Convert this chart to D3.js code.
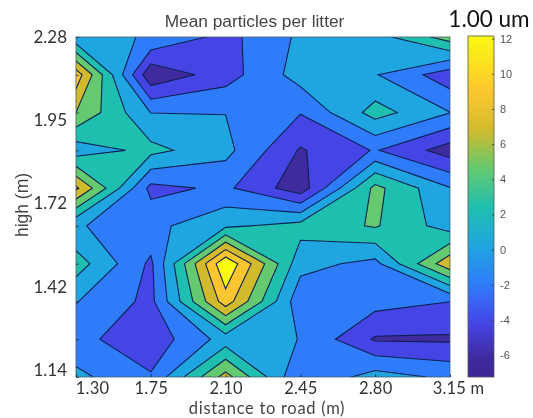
<!DOCTYPE html>
<html>
<head>
<meta charset="utf-8">
<script src="https://cdnjs.cloudflare.com/ajax/libs/d3/7.8.5/d3.min.js"></script>
<style>
  html, body { margin: 0; padding: 0; background: #fff; }
  svg { display: block; filter: blur(0.35px); }
</style>
</head>
<body>
<div id="chart"></div>
<script>
var xLabels = ["1.30", "1.75", "2.10", "2.45", "2.80", "3.15 m"];
var yLabels = ["2.28", "1.95", "1.72", "1.42", "1.14"];
var cbTicks = [12, 10, 8, 6, 4, 2, 0, -2, -4, -6];

// contour levels
var levels = [-5.3, -3.1, -0.9, 1.3, 3.5, 5.7, 7.9, 10.1];
// fill colour value of the band above each level
var bandMids = [-4.2, -2, 0.2, 2.4, 4.6, 6.8, 9, 12.15];

// colour ramp of the colorbar
var rampValues = [-7.25, -6.2, -4.2, -2, 0.2, 2.4, 4.6, 6.8, 9, 12.15];
var rampColors = ["#3d2695", "#3f2a9e", "#4545e6", "#2f7cfa", "#1fa5e0", "#1fbfb0", "#64c96f", "#d1bb2d", "#fdc62f", "#fafa10"];

// one row per height, top row first, one column per distance
var row0 = [-0.46, -1.01, -3.83, -0.50, 0.38, 4.60];
var row1 = [9.22, -7.06, -4.09, 0.05, -0.75, -4.44];
var row2 = [5.70, -0.94, -0.94, -2.99, 2.20, -0.86];
var row3 = [-0.02, 1.98, -0.24, -5.52, -2.92, -6.40];
var row4 = [8.34, -3.76, -2.66, -6.62, 4.16, -0.79];
var row5 = [-0.79, -1.56, 0.86, 2.18, 3.72, 0.20];
var row6 = [2.40, -3.54, 12.08, -0.13, -1.56, 7.35];
var row7 = [-0.79, -3.72, 9.11, -2.44, -2.22, -3.08];
var row8 = [-2.44, -4.51, 0.02, -0.94, -5.56, -5.63];
var row9 = [-0.31, -2.88, 6.58, -2.99, 0.07, -1.34];
var rows = [row0, row1, row2, row3, row4, row5, row6, row7, row8, row9];

var svgWidth = 533, svgHeight = 418;
var plot = { left: 76, right: 450, top: 37, bottom: 377 };
var bar = { left: 468, right: 494, top: 36, bottom: 377 };

var svg = d3.select("#chart").append("svg")
  .attr("width", svgWidth)
  .attr("height", svgHeight)
  .style("font-family", "'Liberation Sans', sans-serif");

var nx = rows[0].length, ny = rows.length;
var values = d3.merge(rows);
var negated = values.map(function(v) { return -v; });

var color = d3.scaleLinear().domain(rampValues).range(rampColors);

// d3.contours puts sample i at i + 0.5
var x = d3.scaleLinear().domain([0.5, nx - 0.5]).range([plot.left, plot.right]);
var y = d3.scaleLinear().domain([0.5, ny - 0.5]).range([plot.top, plot.bottom]);

var path = d3.geoPath(d3.geoTransform({
  point: function(px, py) { this.stream.point(x(px), y(py)); }
}));
var contour = d3.contours().size([nx, ny]);

// the 1.3 level has saddle cells that join their high corners in the reference,
// d3 splits them, so trace the low side and cut it out of a big rect
function levelPath(level) {
  if (level == 1.3) {
    return "M0,0H" + svgWidth + "V" + svgHeight + "H0Z" + path(contour.contour(negated, -level));
  }
  return path(contour.contour(values, level));
}

svg.append("clipPath").attr("id", "plotClip")
  .append("rect")
  .attr("x", plot.left).attr("y", plot.top)
  .attr("width", plot.right - plot.left).attr("height", plot.bottom - plot.top);

var plotArea = svg.append("g").attr("clip-path", "url(#plotClip)");

// lowest band is just the background
plotArea.append("rect")
  .attr("x", plot.left).attr("y", plot.top)
  .attr("width", plot.right - plot.left).attr("height", plot.bottom - plot.top)
  .attr("fill", color(-6.2));

plotArea.selectAll("path")
  .data(levels)
  .enter()
  .append("path")
  .attr("d", levelPath)
  .attr("fill-rule", "evenodd")
  .attr("fill", function(d, i) { return color(bandMids[i]); })
  .attr("stroke", "#0c2150")
  .attr("stroke-width", 1.1)
  .attr("stroke-linejoin", "miter");

// box and small inner ticks at the grid nodes
svg.append("rect")
  .attr("x", plot.left).attr("y", plot.top)
  .attr("width", plot.right - plot.left).attr("height", plot.bottom - plot.top)
  .attr("fill", "none").attr("stroke", "#4a5a6a").attr("stroke-width", 0.8);

var innerX = d3.axisBottom(x).tickValues(d3.range(nx).map(function(i) { return i + 0.5; })).tickSize(-3).tickFormat("");
var innerY = d3.axisLeft(y).tickValues(d3.range(ny).map(function(i) { return i + 0.5; })).tickSize(-3).tickFormat("");
var ix = svg.append("g").attr("transform", "translate(0," + plot.bottom + ")").call(innerX);
var iy = svg.append("g").attr("transform", "translate(" + plot.left + ",0)").call(innerY);
ix.select(".domain").remove();
iy.select(".domain").remove();
svg.selectAll("g.tick line").attr("stroke", "#123").attr("stroke-width", 0.7);

// tick labels of the axes
var xTick = d3.scalePoint().domain(xLabels).range([plot.left, plot.right]);
var yTick = d3.scalePoint().domain(yLabels).range([37, 370]);

var xAxis = svg.append("g")
  .attr("transform", "translate(0,379.6)")
  .call(d3.axisBottom(xTick).tickSize(0).tickPadding(3));
xAxis.select(".domain").remove();
xAxis.selectAll("text")
  .attr("font-size", 16.5)
  .attr("font-family", "Lato, sans-serif")
  .attr("letter-spacing", 0.2)
  .attr("fill", "#333")
  .attr("dx", function(d, i) { return i == 0 ? 16 : i == nx - 1 ? 8 : 0; });

var yAxis = svg.append("g")
  .attr("transform", "translate(70,0)")
  .call(d3.axisLeft(yTick).tickSize(0).tickPadding(3));
yAxis.select(".domain").remove();
yAxis.selectAll("text")
  .attr("font-size", 17)
  .attr("font-family", "Lato, sans-serif")
  .attr("fill", "#333");

svg.append("text")
  .attr("x", 254.5).attr("y", 27)
  .attr("text-anchor", "middle")
  .attr("font-size", 17.3)
  .attr("fill", "#444")
  .text("Mean particles per litter");

svg.append("text")
  .attr("x", 489).attr("y", 27)
  .attr("text-anchor", "middle")
  .attr("font-size", 22.5)
  .attr("font-family", "Lato, sans-serif")
  .attr("fill", "#111")
  .text("1.00 um");

svg.append("text")
  .attr("x", 267).attr("y", 414.2)
  .attr("text-anchor", "middle")
  .attr("font-size", 16.5)
  .attr("font-family", "Lato, sans-serif")
  .attr("letter-spacing", 0.7)
  .attr("fill", "#444")
  .text("distance to road (m)");

svg.append("text")
  .attr("transform", "translate(28,205) rotate(-90)")
  .attr("text-anchor", "middle")
  .attr("font-size", 17.5)
  .attr("fill", "#444")
  .text("high (m)");

// colorbar
var cbScale = d3.scaleLinear().domain([-7.25, 12.15]).range([bar.bottom, bar.top]);

var grad = svg.append("defs").append("linearGradient")
  .attr("id", "cbGrad")
  .attr("x1", 0).attr("y1", 1).attr("x2", 0).attr("y2", 0);
grad.selectAll("stop")
  .data(rampValues)
  .enter()
  .append("stop")
  .attr("offset", function(d) { return (d + 7.25) / 19.4; })
  .attr("stop-color", function(d) { return color(d); });

svg.append("rect")
  .attr("x", bar.left).attr("y", bar.top)
  .attr("width", bar.right - bar.left).attr("height", bar.bottom - bar.top)
  .attr("fill", "url(#cbGrad)")
  .attr("stroke", "#555").attr("stroke-width", 0.8);

var cbAxis = svg.append("g")
  .attr("transform", "translate(" + bar.right + ",0)")
  .call(d3.axisRight(cbScale).tickValues(cbTicks).tickSize(0).tickPadding(6).tickFormat(d3.format("d")));
cbAxis.select(".domain").remove();
cbAxis.selectAll("text")
  .attr("font-size", 11)
  .attr("fill", "#555")
  .text(function(d) { return String(d); });
cbAxis.selectAll(".tick").append("line")
  .attr("x1", -2).attr("x2", 0)
  .attr("stroke", "#333").attr("stroke-width", 0.8);
</script>
</body>
</html>
